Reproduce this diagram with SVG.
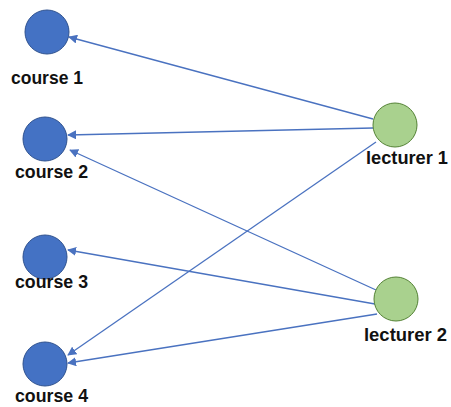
<svg xmlns="http://www.w3.org/2000/svg" width="451" height="407" viewBox="0 0 451 407">
<style>
.course{fill:#4472c4;stroke:#2f528f;stroke-width:1}
.lect{fill:#a9d18e;stroke:#548235;stroke-width:1}
.lbl{font-family:"Liberation Sans",Arial,sans-serif;font-weight:bold;font-size:19px;fill:#111111}
.edge{stroke:#4a72c0;stroke-width:1.3;fill:none;marker-end:url(#arr)}
</style>
<defs>
<marker id="arr" viewBox="0 0 10 10" refX="9" refY="5" markerWidth="9" markerHeight="9" markerUnits="userSpaceOnUse" orient="auto">
<path d="M0,0 L10,5 L0,10 z" fill="#4a72c0"/>
</marker>
</defs>
<rect width="451" height="407" fill="#ffffff"/>
<g id="connectors">
<line class="edge" x1="373" y1="119" x2="69" y2="37"/>
<line class="edge" x1="373" y1="128" x2="68" y2="135"/>
<line class="edge" x1="376" y1="142" x2="68" y2="355"/>
<line class="edge" x1="376" y1="290" x2="70" y2="150"/>
<line class="edge" x1="375" y1="304" x2="68" y2="250"/>
<line class="edge" x1="377" y1="314" x2="68" y2="363"/>
</g>
<g id="course1"><circle class="course" cx="47" cy="32" r="22"/><text class="lbl" x="11" y="84" textLength="72" lengthAdjust="spacingAndGlyphs">course 1</text></g>
<g id="course2"><circle class="course" cx="45" cy="139" r="22"/><text class="lbl" x="15" y="178" textLength="73" lengthAdjust="spacingAndGlyphs">course 2</text></g>
<g id="course3"><circle class="course" cx="45" cy="257" r="22"/><text class="lbl" x="15" y="288" textLength="73" lengthAdjust="spacingAndGlyphs">course 3</text></g>
<g id="course4"><circle class="course" cx="45" cy="364" r="22"/><text class="lbl" x="15" y="402" textLength="73" lengthAdjust="spacingAndGlyphs">course 4</text></g>
<g id="lecturer1"><circle class="lect" cx="395" cy="125" r="22"/><text class="lbl" x="366" y="164" textLength="82" lengthAdjust="spacingAndGlyphs">lecturer 1</text></g>
<g id="lecturer2"><circle class="lect" cx="396" cy="299" r="22"/><text class="lbl" x="364" y="341" textLength="83" lengthAdjust="spacingAndGlyphs">lecturer 2</text></g>
</svg>
